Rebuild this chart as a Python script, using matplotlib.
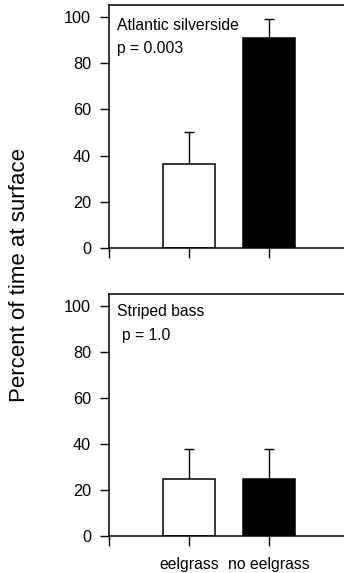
import matplotlib
matplotlib.use("Agg")
import matplotlib.pyplot as plt

plt.rcParams['font.family'] = ['Liberation Sans', 'DejaVu Sans']

# Data
conditions = ['eelgrass', 'no eelgrass']
positions = [1, 2]
bar_colors = ['white', 'black']

silverside_mean = [36.5, 91.0]
silverside_se = [13.6, 8.3]
bass_mean = [24.9, 24.8]
bass_se = [13.0, 12.9]

panels = [
    ('Atlantic silverside', 'p = 0.003', silverside_mean, silverside_se),
    ('Striped bass', 'p = 1.0', bass_mean, bass_se),
]

fig = plt.figure(figsize=(3.44, 5.73), dpi=100)
# axes rectangles in figure fraction (left, bottom, width, height)
rects = [(109 / 344, 0.5677, 235 / 344, 0.4236),
         (109 / 344, 0.0646, 235 / 344, 0.4223)]
label_pos = [(0.033, 0.897, 0.033, 0.801),
             (0.036, 0.910, 0.054, 0.810)]

for i, (name, ptxt, means, ses) in enumerate(panels):
    ax = fig.add_axes(rects[i])
    ax.bar(positions, means, width=0.66, color=bar_colors,
           edgecolor='black', linewidth=1.1, zorder=2)
    ax.errorbar(positions, means, yerr=[[0, 0], ses], fmt='none',
                ecolor='black', elinewidth=1.0, capsize=3.6, capthick=1.0,
                zorder=1)
    ax.set_xlim(0, 235 / 80)
    ax.set_ylim(0, 105.3)
    ax.set_yticks([0, 20, 40, 60, 80, 100])
    ax.set_xticks([0, 1, 2])
    if i == 1:
        ax.set_xticklabels(['', conditions[0], conditions[1]])
    else:
        ax.set_xticklabels(['', '', ''])
    ax.spines['right'].set_visible(False)
    for s in ['left', 'bottom', 'top']:
        ax.spines[s].set_linewidth(1.1)
    ax.tick_params(axis='y', direction='out', length=6.5, width=1.0,
                   pad=6.5, labelsize=11.7)
    ax.tick_params(axis='x', direction='out', length=7, width=1.0,
                   pad=8, labelsize=11.3)
    tx, ty, px, py = label_pos[i]
    ax.text(tx, ty, name, transform=ax.transAxes, fontsize=11.3,
            va='baseline', ha='left')
    ax.text(px, py, ptxt, transform=ax.transAxes, fontsize=11.3,
            va='baseline', ha='left')

fig.text(19.5 / 344, 1 - 275 / 573, 'Percent of time at surface',
         rotation=90, fontsize=16, va='center', ha='center')

fig.savefig('out.png', dpi=100)
plt.close(fig)
